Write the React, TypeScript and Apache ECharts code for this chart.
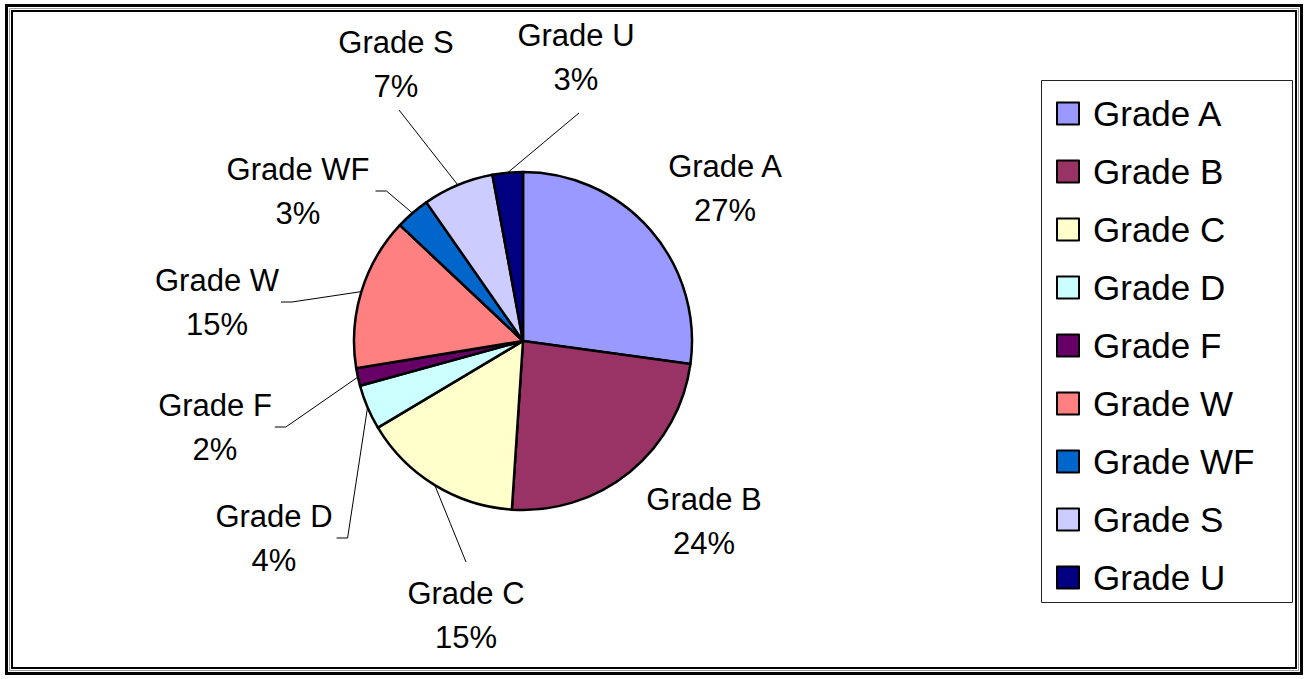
import React, { useEffect, useRef } from 'react';
import * as echarts from 'echarts';

// ---- data ----
const categories = ['Grade A', 'Grade B', 'Grade C', 'Grade D', 'Grade F', 'Grade W', 'Grade WF', 'Grade S', 'Grade U'];
const shares = [27.2, 23.9, 15.4, 4.3, 1.7, 14.6, 3.3, 6.8, 2.9];
const colors = ['#9999FF', '#993366', '#FFFFCC', '#CCFFFF', '#660066', '#FF8080', '#0066CC', '#CCCCFF', '#000080'];

// ---- label layout (offset of each label centre from the pie centre) ----
const labelOffsetX = [202, 181, -57, -249, -308, -306, -225, -127, 53];
const labelOffsetY = [-153, 180, 274, 197, 86, -39, -150, -277, -284];
const guideKind = ['none', 'none', 'top', 'side', 'side', 'side', 'side', 'bottom', 'bottom'];
const guideGap = [0, 0, 9, 4, 3, 2, 6, 2, 12];

const W = 1308;
const H = 679;
const center = [523, 341];
const radius = 169;
const FONT = "'Liberation Sans', Arial, Helvetica, sans-serif";

export default function App() {
  const ref = useRef<HTMLDivElement>(null);

  useEffect(() => {
    if (!ref.current) return;
    const chart = echarts.init(ref.current, undefined, { renderer: 'svg' });

    const total = shares.reduce((a, b) => a + b, 0);
    const midAngles: number[] = [];
    let acc = 0;
    shares.forEach((v) => {
      midAngles.push(((acc + v / 2) / total) * Math.PI * 2);
      acc += v;
    });

    const data = categories.map((name, i) => ({
      name,
      value: shares[i],
      itemStyle: { color: colors[i] },
      labelLine: { show: guideKind[i] !== 'none' },
    }));

    const option: any = {
      animation: false,
      backgroundColor: '#ffffff',
      graphic: [
        { type: 'rect', shape: { x: 6.5, y: 5.5, width: W - 13, height: H - 11 }, style: { fill: 'none', stroke: '#000', lineWidth: 3 }, silent: true },
        { type: 'rect', shape: { x: 9.5, y: 8.5, width: W - 19, height: H - 17 }, style: { fill: 'none', stroke: '#9a9a9a', lineWidth: 1 }, silent: true },
        { type: 'rect', shape: { x: 12, y: 11, width: W - 24, height: H - 22 }, style: { fill: 'none', stroke: '#000', lineWidth: 2 }, silent: true },
        { type: 'rect', shape: { x: 1041.5, y: 80.5, width: 251, height: 522 }, style: { fill: '#fff', stroke: '#222', lineWidth: 1 }, silent: true },
      ],
      legend: {
        orient: 'vertical',
        left: 1056,
        top: 96,
        padding: 0,
        icon: 'rect',
        itemWidth: 22,
        itemHeight: 22,
        itemGap: 23,
        itemStyle: { borderColor: '#000', borderWidth: 2 },
        textStyle: { fontSize: 35, color: '#000', fontFamily: FONT, padding: [0, 0, 0, 9] },
        data: categories,
        z: 10,
      },
      series: [
        {
          type: 'pie',
          center,
          radius,
          startAngle: 90,
          clockwise: true,
          avoidLabelOverlap: false,
          minShowLabelAngle: 0,
          itemStyle: { borderColor: '#000', borderWidth: 2.5 },
          emphasis: { disabled: true },
          label: {
            show: true,
            position: 'outside',
            formatter: (p: any) => `${p.name}\n${Math.round(p.percent)}%`,
            fontSize: 31,
            lineHeight: 44,
            color: '#000',
            fontFamily: FONT,
          },
          labelLine: { show: true, length: 10, length2: 10, lineStyle: { color: '#000', width: 1 } },
          labelLayout: (params: any) => {
            const i = params.dataIndex;
            const lx = center[0] + labelOffsetX[i];
            const ly = center[1] + labelOffsetY[i];
            const w = params.labelRect.width;
            const h = params.labelRect.height;
            const th = midAngles[i];
            const edge = [center[0] + radius * Math.sin(th), center[1] - radius * Math.cos(th)];
            const kind = guideKind[i];
            const res: any = { x: lx, y: ly, align: 'center', verticalAlign: 'middle' };
            if (kind === 'side') {
              const ex = lx + w / 2 + guideGap[i];
              res.labelLinePoints = [edge, [ex + 11, ly], [ex, ly]];
            } else if (kind === 'top') {
              const end = [lx, ly - h / 2 - guideGap[i]];
              res.labelLinePoints = [edge, [(edge[0] + end[0]) / 2, (edge[1] + end[1]) / 2], end];
            } else if (kind === 'bottom') {
              const end = [lx + 3, ly + h / 2 + guideGap[i]];
              res.labelLinePoints = [edge, [(edge[0] + end[0]) / 2, (edge[1] + end[1]) / 2], end];
            }
            return res;
          },
          data,
        },
      ],
    };

    chart.setOption(option);
    return () => chart.dispose();
  }, []);

  return (
    <div
      ref={ref}
      style={{ position: 'fixed', left: 0, top: 0, width: W, height: H, background: '#fff' }}
    />
  );
}
